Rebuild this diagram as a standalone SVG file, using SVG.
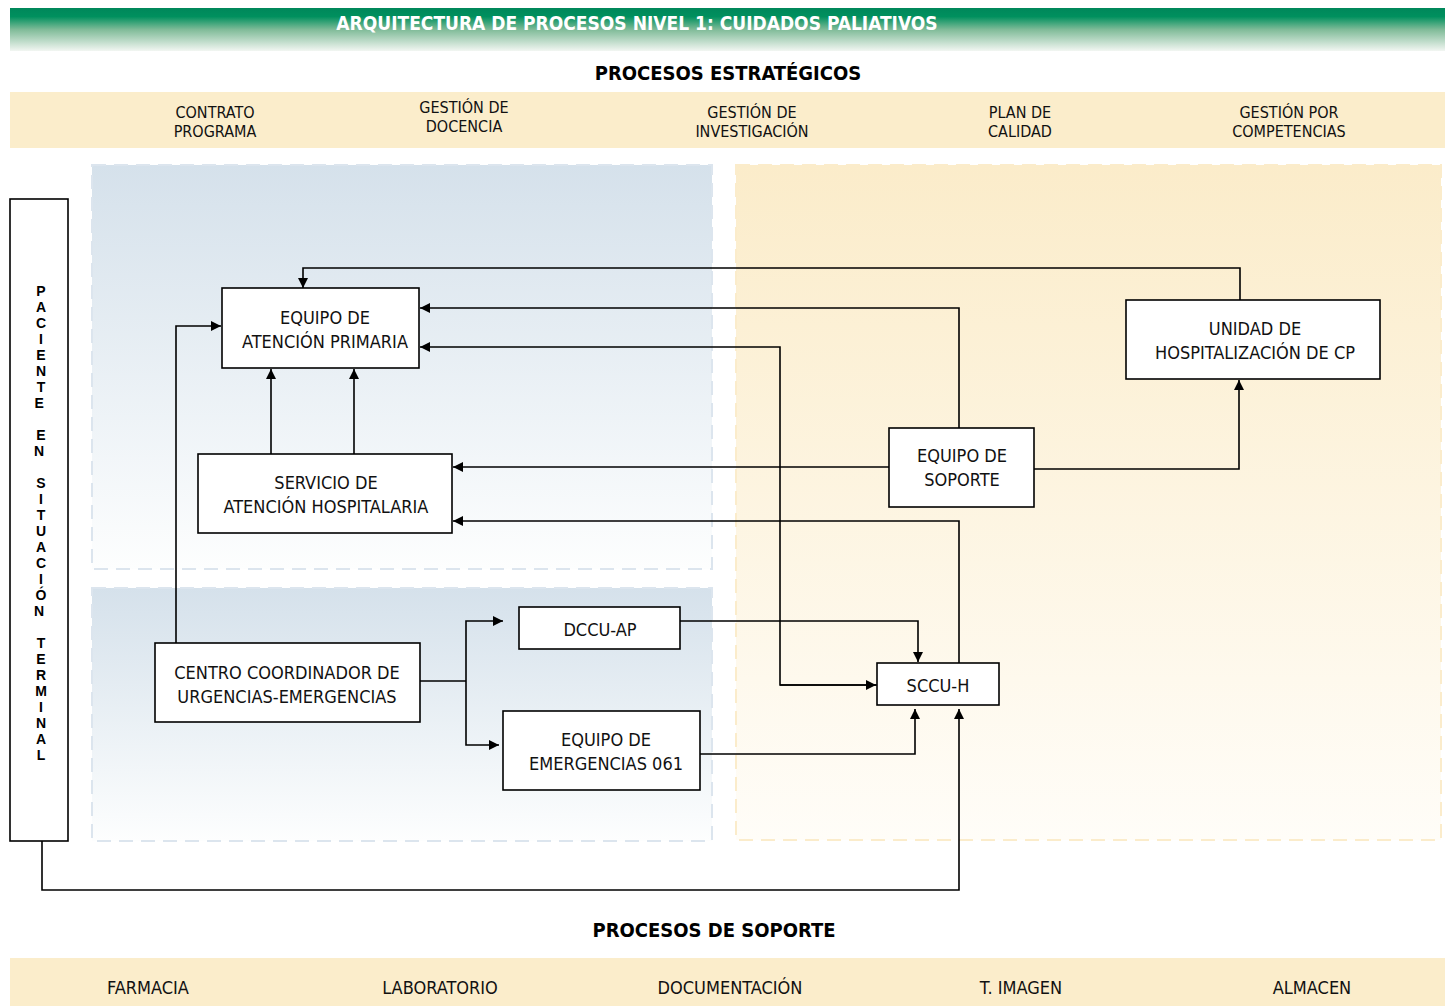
<svg xmlns="http://www.w3.org/2000/svg" width="1445" height="1006" viewBox="0 0 1445 1006">
<defs>
<linearGradient id="gHead" x1="0" y1="0" x2="0" y2="1">
<stop offset="0" stop-color="#00875a"/>
<stop offset="0.2" stop-color="#00905e"/>
<stop offset="0.5" stop-color="#7fbb98"/>
<stop offset="1" stop-color="#f2f6f2"/>
</linearGradient>
<linearGradient id="gBlue" x1="0" y1="0" x2="0" y2="1">
<stop offset="0" stop-color="#d5e1eb"/>
<stop offset="1" stop-color="#fdfefe"/>
</linearGradient>
<linearGradient id="gYel" x1="0" y1="0" x2="0" y2="1">
<stop offset="0" stop-color="#fbecca"/>
<stop offset="1" stop-color="#fffdf8"/>
</linearGradient>
<marker id="arr" viewBox="0 0 10 10" refX="10" refY="5" markerWidth="10" markerHeight="10" markerUnits="userSpaceOnUse" orient="auto">
<path d="M0,0 L10,5 L0,10 z" fill="#000"/>
</marker>
<style>
.t{font-family:"Liberation Sans Narrow","DejaVu Sans Condensed","Liberation Sans",sans-serif;font-size:18px;fill:#111;text-anchor:middle}
.s{font-family:"Liberation Sans Narrow","DejaVu Sans Condensed","Liberation Sans",sans-serif;font-size:16px;fill:#111;text-anchor:middle}
.hb{font-family:"Liberation Sans Narrow","DejaVu Sans Condensed","Liberation Sans",sans-serif;font-size:20px;font-weight:bold;fill:#000;text-anchor:middle}
.node rect{fill:#fff;stroke:#000;stroke-width:1.6}
.band{fill:#fbedcb}
.c{fill:none;stroke:#000;stroke-width:1.6}
.ca{fill:none;stroke:#000;stroke-width:1.6;marker-end:url(#arr)}
.pl{font-family:"Liberation Sans","Arial",sans-serif;font-size:14px;font-weight:bold;fill:#000;text-anchor:middle}
</style>
</defs>
<rect width="1445" height="1006" fill="#fff"/>
<rect x="10" y="8" width="1435" height="43" fill="url(#gHead)"/>
<text x="637" y="30" class="hb" style="fill:#fff;font-size:19px">ARQUITECTURA DE PROCESOS NIVEL 1: CUIDADOS PALIATIVOS</text>

<text x="728" y="80" class="hb">PROCESOS ESTRATÉGICOS</text>
<rect class="band" x="10" y="92" width="1435" height="56"/>
<g id="estrategicos">
<text class="s" x="215" y="118">CONTRATO</text><text class="s" x="215" y="137">PROGRAMA</text>
<text class="s" x="464" y="113">GESTIÓN DE</text><text class="s" x="464" y="132">DOCENCIA</text>
<text class="s" x="752" y="118">GESTIÓN DE</text><text class="s" x="752" y="137">INVESTIGACIÓN</text>
<text class="s" x="1020" y="118">PLAN DE</text><text class="s" x="1020" y="137">CALIDAD</text>
<text class="s" x="1289" y="118">GESTIÓN POR</text><text class="s" x="1289" y="137">COMPETENCIAS</text>
</g>

<rect x="92" y="165" width="620" height="404" fill="url(#gBlue)" stroke="#dce5ee" stroke-width="2" stroke-dasharray="14,8"/>
<rect x="92" y="588" width="620" height="253" fill="url(#gBlue)" stroke="#dce5ee" stroke-width="2" stroke-dasharray="14,8"/>
<rect x="736" y="165" width="705" height="675" fill="url(#gYel)" stroke="#fbeccb" stroke-width="2" stroke-dasharray="14,8"/>

<g id="connectors">
<path class="ca" d="M1240,300 V268 H303 V288"/>
<path class="ca" d="M959,428 V308 H420"/>
<path class="ca" d="M877,685 H780 V347 H420"/>
<path class="ca" d="M780,685 H876"/>
<path class="ca" d="M889,467 H453"/>
<path class="ca" d="M1034,469 H1239 V380"/>
<path class="ca" d="M959,663 V521 H453"/>
<path class="ca" d="M271,454 V369"/>
<path class="ca" d="M354,454 V369"/>
<path class="ca" d="M176,643 V326 H221"/>
<path class="c" d="M420,681 H466"/>
<path class="ca" d="M466,681 V745 H499"/>
<path class="ca" d="M466,681 V621 H503"/>
<path class="ca" d="M680,621 H918 V662"/>
<path class="ca" d="M700,754 H915 V709"/>
<path class="ca" d="M42,841 V890 H959 V709"/>
</g>

<g id="paciente" class="node">
<rect x="10" y="199" width="58" height="642"/>
<text class="pl">
<tspan x="41" y="296">P</tspan><tspan x="41" y="312">A</tspan><tspan x="41" y="328">C</tspan><tspan x="41" y="344">I</tspan><tspan x="41" y="360">E</tspan><tspan x="41" y="376">N</tspan><tspan x="41" y="392">T</tspan><tspan x="41" y="408">E</tspan>
<tspan x="41" y="440">E</tspan><tspan x="41" y="456">N</tspan>
<tspan x="41" y="488">S</tspan><tspan x="41" y="504">I</tspan><tspan x="41" y="520">T</tspan><tspan x="41" y="536">U</tspan><tspan x="41" y="552">A</tspan><tspan x="41" y="568">C</tspan><tspan x="41" y="584">I</tspan><tspan x="41" y="600">Ó</tspan><tspan x="41" y="616">N</tspan>
<tspan x="41" y="648">T</tspan><tspan x="41" y="664">E</tspan><tspan x="41" y="680">R</tspan><tspan x="41" y="696">M</tspan><tspan x="41" y="712">I</tspan><tspan x="41" y="728">N</tspan><tspan x="41" y="744">A</tspan><tspan x="41" y="760">L</tspan>
</text>
</g>

<g id="eap" class="node"><rect x="222" y="288" width="197" height="80"/>
<text class="t" x="325" y="324">EQUIPO DE</text><text class="t" x="325" y="348">ATENCIÓN PRIMARIA</text></g>
<g id="sah" class="node"><rect x="198" y="454" width="254" height="79"/>
<text class="t" x="326" y="489">SERVICIO DE</text><text class="t" x="326" y="513">ATENCIÓN HOSPITALARIA</text></g>
<g id="uhcp" class="node"><rect x="1126" y="300" width="254" height="79"/>
<text class="t" x="1255" y="335">UNIDAD DE</text><text class="t" x="1255" y="359">HOSPITALIZACIÓN DE CP</text></g>
<g id="soporte" class="node"><rect x="889" y="428" width="145" height="79"/>
<text class="t" x="962" y="462">EQUIPO DE</text><text class="t" x="962" y="486">SOPORTE</text></g>
<g id="dccu" class="node"><rect x="519" y="607" width="161" height="42"/>
<text class="t" x="600" y="636">DCCU-AP</text></g>
<g id="ccue" class="node"><rect x="155" y="643" width="265" height="79"/>
<text class="t" x="287" y="679">CENTRO COORDINADOR DE</text><text class="t" x="287" y="703">URGENCIAS-EMERGENCIAS</text></g>
<g id="e061" class="node"><rect x="503" y="711" width="197" height="79"/>
<text class="t" x="606" y="746">EQUIPO DE</text><text class="t" x="606" y="770">EMERGENCIAS 061</text></g>
<g id="sccuh" class="node"><rect x="877" y="663" width="122" height="42"/>
<text class="t" x="938" y="692">SCCU-H</text></g>

<text x="714" y="937" class="hb">PROCESOS DE SOPORTE</text>
<rect class="band" x="10" y="958" width="1435" height="48"/>
<g id="soporte-procesos">
<text class="t" x="148" y="994">FARMACIA</text>
<text class="t" x="440" y="994">LABORATORIO</text>
<text class="t" x="730" y="994">DOCUMENTACIÓN</text>
<text class="t" x="1021" y="994">T. IMAGEN</text>
<text class="t" x="1312" y="994">ALMACEN</text>
</g>
</svg>
